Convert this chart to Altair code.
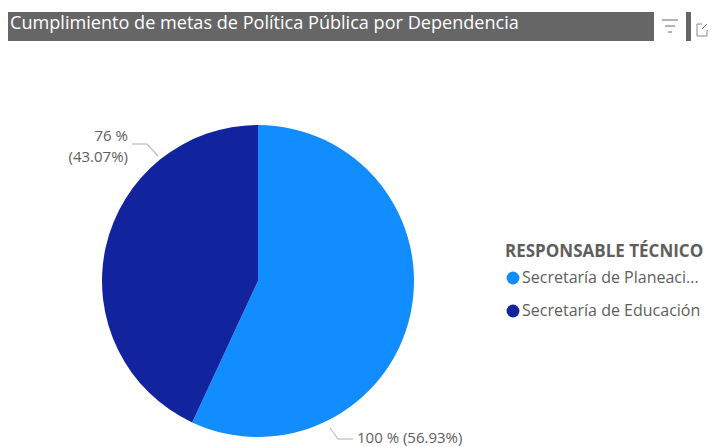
import altair as alt
import pandas as pd

TITLE = "Cumplimiento de metas de Política Pública por Dependencia"
LEGEND_TITLE = "RESPONSABLE TÉCNICO"
categories = ["Secretaría de Planeaci...", "Secretaría de Educación"]
values = [56.93, 43.07]
colors = ["#118DFF", "#12239E"]
FONT = "Open Sans"
GREY = "#666666"
OX, OY = 8, 8  # page margin


def px(v):
    return alt.value(v - OX)


def py(v):
    return alt.value(v - OY)


df = pd.DataFrame({"cat": categories, "val": values, "ord": [0, 1]})
one = pd.DataFrame({"a": [0]})

pie = alt.Chart(df).mark_arc(radius=156, stroke=None).encode(
    theta=alt.Theta("val:Q", stack=True, scale=alt.Scale(domain=[0, 100], range=[0, 6.28318531])),
    order=alt.Order("ord:Q"),
    color=alt.Color(
        "cat:N",
        sort=categories,
        scale=alt.Scale(domain=categories, range=colors),
        legend=alt.Legend(
            title=LEGEND_TITLE, orient="none", legendX=505 - OX, legendY=244 - OY,
            titleFont=FONT, titleFontSize=17, titleFontWeight="bold", titleColor="#605E5C",
            titlePadding=9, titleLimit=220,
            labelFont=FONT, labelFontSize=16, labelColor="#605E5C", labelLimit=210,
            symbolType="circle", symbolSize=165, symbolStrokeWidth=0, labelOffset=1,
            rowPadding=17,
        ),
    ),
    x=px(258),
    y=py(281),
)


def rect(x1, x2, y1, y2, color):
    return alt.Chart(one).mark_rect(color=color).encode(
        x=px(x1), x2=px(x2), y=py(y1), y2=py(y2)
    )


def rule(x1, y1, x2, y2, color="#BDBDBD", width=1.2):
    return alt.Chart(one).mark_rule(color=color, strokeWidth=width).encode(
        x=px(x1), x2=px(x2), y=py(y1), y2=py(y2)
    )


def text(s, x, y, size=15, color="#605E5C", align="left", font=FONT):
    return alt.Chart(one).mark_text(
        text=s, align=align, baseline="alphabetic", fontSize=size, color=color, font=font
    ).encode(x=px(x), y=py(y))


layers = [
    rect(4, 691, 12, 41, GREY),
    rect(654, 686, 12, 41, "#FFFFFF"),
    text(TITLE, 10, 29, size=18.1, color="#FFFFFF"),
    rule(662, 20, 678, 20, "#666666", 1),
    rule(665, 26, 675, 26, "#666666", 1),
    rule(668, 32, 672, 32, "#666666", 1),
    rule(697, 24, 697, 36, "#888888", 1),
    rule(697, 36, 707, 36, "#888888", 1),
    rule(707, 30, 707, 36, "#888888", 1),
    rule(697, 24, 702, 24, "#888888", 1),
    rule(702, 29, 707, 24, "#888888", 1),
    pie,
    rule(132, 144, 147, 144),
    rule(147, 144, 158, 156),
    rule(330, 428, 338, 439),
    rule(338, 439, 353, 439),
    text("76 %", 128, 141, align="right"),
    text("(43.07%)", 128, 162, align="right"),
    text("100 % (56.93%)", 357, 443),
]

chart = alt.layer(*layers).properties(
    width=700, height=439, padding=0,
    autosize=alt.AutoSizeParams(type="none"),
).configure_view(stroke=None)

chart.save("out.html", embed_options={"renderer": "svg", "actions": False})
